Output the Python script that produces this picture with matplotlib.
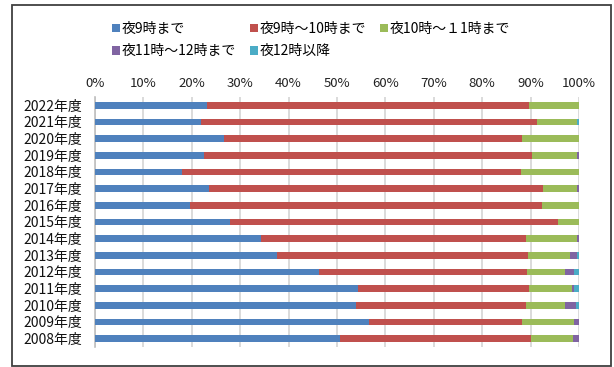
import matplotlib
matplotlib.use("Agg")
import matplotlib.pyplot as plt
from matplotlib.patches import Rectangle
import numpy as np

plt.rcParams['font.family'] = ['Noto Sans CJK JP', 'DejaVu Sans']

years = ["2022年度", "2021年度", "2020年度", "2019年度", "2018年度", "2017年度",
         "2016年度", "2015年度", "2014年度", "2013年度", "2012年度", "2011年度",
         "2010年度", "2009年度", "2008年度"]
series_names = ["夜9時まで", "夜9時～10時まで", "夜10時～１1時まで", "夜11時～12時まで", "夜12時以降"]
until9 = [23.2, 21.9, 26.7, 22.6, 17.9, 23.6, 19.6, 27.9, 34.4, 37.5, 46.3, 54.3, 54.0, 56.6, 50.7]
h9_10 = [66.4, 69.4, 61.6, 67.6, 70.1, 68.9, 72.7, 67.7, 54.6, 51.9, 42.9, 35.3, 35.0, 31.7, 39.3]
h10_11 = [10.4, 8.3, 11.7, 9.3, 12.0, 7.0, 7.7, 4.4, 10.5, 8.7, 8.0, 9.0, 8.1, 10.7, 8.7]
h11_12 = [0.0, 0.0, 0.0, 0.5, 0.0, 0.5, 0.0, 0.0, 0.5, 1.4, 1.7, 0.3, 2.2, 1.0, 1.3]
after12 = [0.0, 0.4, 0.0, 0.0, 0.0, 0.0, 0.0, 0.0, 0.0, 0.5, 1.1, 1.1, 0.7, 0.0, 0.0]
xticks = [0, 10, 20, 30, 40, 50, 60, 70, 80, 90, 100]
xtick_labels = ["0%", "10%", "20%", "30%", "40%", "50%", "60%", "70%", "80%", "90%", "100%"]

colors = ["#4F81BD", "#C0504D", "#9BBB59", "#8064A2", "#4BACC6"]
data = [until9, h9_10, h10_11, h11_12, after12]

W, H = 614, 367
fig = plt.figure(figsize=(W / 100, H / 100), dpi=100)
ax = fig.add_axes([95 / W, 1 - 347 / H, (579 - 95) / W, (347 - 97) / H])

y = np.arange(len(years))
left = np.zeros(len(years))
handles = []
for name, vals, c in zip(series_names, data, colors):
    vals = np.array(vals)
    b = ax.barh(y, vals, left=left, height=0.4, color=c, label=name,
                edgecolor='none', zorder=3)
    handles.append(b)
    left += vals

ax.set_xlim(0, 100)
ax.set_ylim(len(years) - 0.5, -0.5)
ax.set_yticks(y)
ax.set_yticklabels(years, fontsize=10)
ax.set_xticks(xticks)
ax.set_xticklabels(xtick_labels, fontsize=9.5)
ax.xaxis.tick_top()
ax.tick_params(axis='x', length=0, pad=5, colors='#222222')
ax.tick_params(axis='y', length=0, pad=9, colors='#111111')
ax.grid(axis='x', color='#d4d4d4', linewidth=1.2, zorder=0)
for s in ['top', 'right', 'bottom']:
    ax.spines[s].set_visible(False)
ax.spines['left'].set_color('#bfbfbf')
ax.spines['left'].set_linewidth(1.2)

order = [0, 3, 1, 4, 2]
leg = fig.legend([handles[i] for i in order], [series_names[i] for i in order],
                 ncol=3, loc='upper left', bbox_to_anchor=(112 / W, 1 - 22 / H),
                 frameon=False, fontsize=10, handlelength=0.55, handleheight=0.55,
                 handletextpad=0.15, columnspacing=1.0, labelspacing=0.6,
                 borderpad=0, borderaxespad=0)

fig.patches.append(Rectangle((12 / W, 1 / H), (611 - 12) / W, (362 - 1) / H,
                             transform=fig.transFigure, fill=False,
                             edgecolor='#404040', linewidth=1.3))

fig.savefig("out.png", dpi=100)
